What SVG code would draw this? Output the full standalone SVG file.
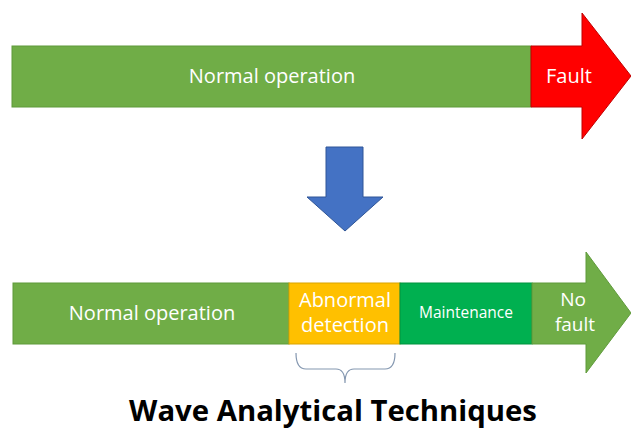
<svg xmlns="http://www.w3.org/2000/svg" width="631" height="428" viewBox="0 0 631 428">
<style>
.lbl{font-family:"Open Sans","Liberation Sans",sans-serif;fill:#ffffff;text-anchor:middle}
.title{font-family:"Open Sans","Liberation Sans",sans-serif;font-weight:bold;fill:#000;text-anchor:middle}
</style>
<rect width="631" height="428" fill="#ffffff"/>
<g id="top-normal">
<rect x="12" y="46" width="519" height="61" fill="#70ad47" stroke="#5f9a3b" stroke-width="1"/>
<text class="lbl" x="272" y="83" font-size="20">Normal operation</text>
</g>
<g id="top-fault">
<polygon points="531,46 582,46 582,13 631,76 582,139 582,107 531,107" fill="#ff0000" stroke="#c00000" stroke-width="1"/>
<text class="lbl" x="569" y="83" font-size="20">Fault</text>
</g>
<g id="connectors">
<polygon points="326,147 363,147 363,197 383,197 345,231 307,197 326,197" fill="#4472c4" stroke="#2f5597" stroke-width="1"/>
<path d="M296,353 Q296,369 306,369 L336,369 Q345,369 345,383 Q345,369 354,369 L385,369 Q395,369 395,353" fill="none" stroke="#8497b0" stroke-width="1.2"/>
</g>
<g id="bottom-normal">
<rect x="13" y="283" width="276" height="61" fill="#70ad47" stroke="#5f9a3b" stroke-width="1"/>
<text class="lbl" x="152" y="320" font-size="20">Normal operation</text>
</g>
<g id="abnormal">
<rect x="289" y="283" width="111" height="61" fill="#ffc000" stroke="#d9a300" stroke-width="1"/>
<text class="lbl" x="345" y="307" font-size="20">Abnormal</text>
<text class="lbl" x="345" y="332" font-size="20">detection</text>
</g>
<g id="maintenance">
<rect x="400" y="283" width="132" height="61" fill="#00b050" stroke="#00933f" stroke-width="1"/>
<text class="lbl" x="466" y="318" font-size="15.5">Maintenance</text>
</g>
<g id="no-fault">
<polygon points="532,283 586,283 586,252 631,313 586,373 586,344 532,344" fill="#70ad47" stroke="#5f9a3b" stroke-width="1"/>
<text class="lbl" x="573" y="306" font-size="19">No</text>
<text class="lbl" x="575" y="331" font-size="19">fault</text>
</g>
<text class="title" x="333" y="421" font-size="29.3">Wave Analytical Techniques</text>
</svg>
